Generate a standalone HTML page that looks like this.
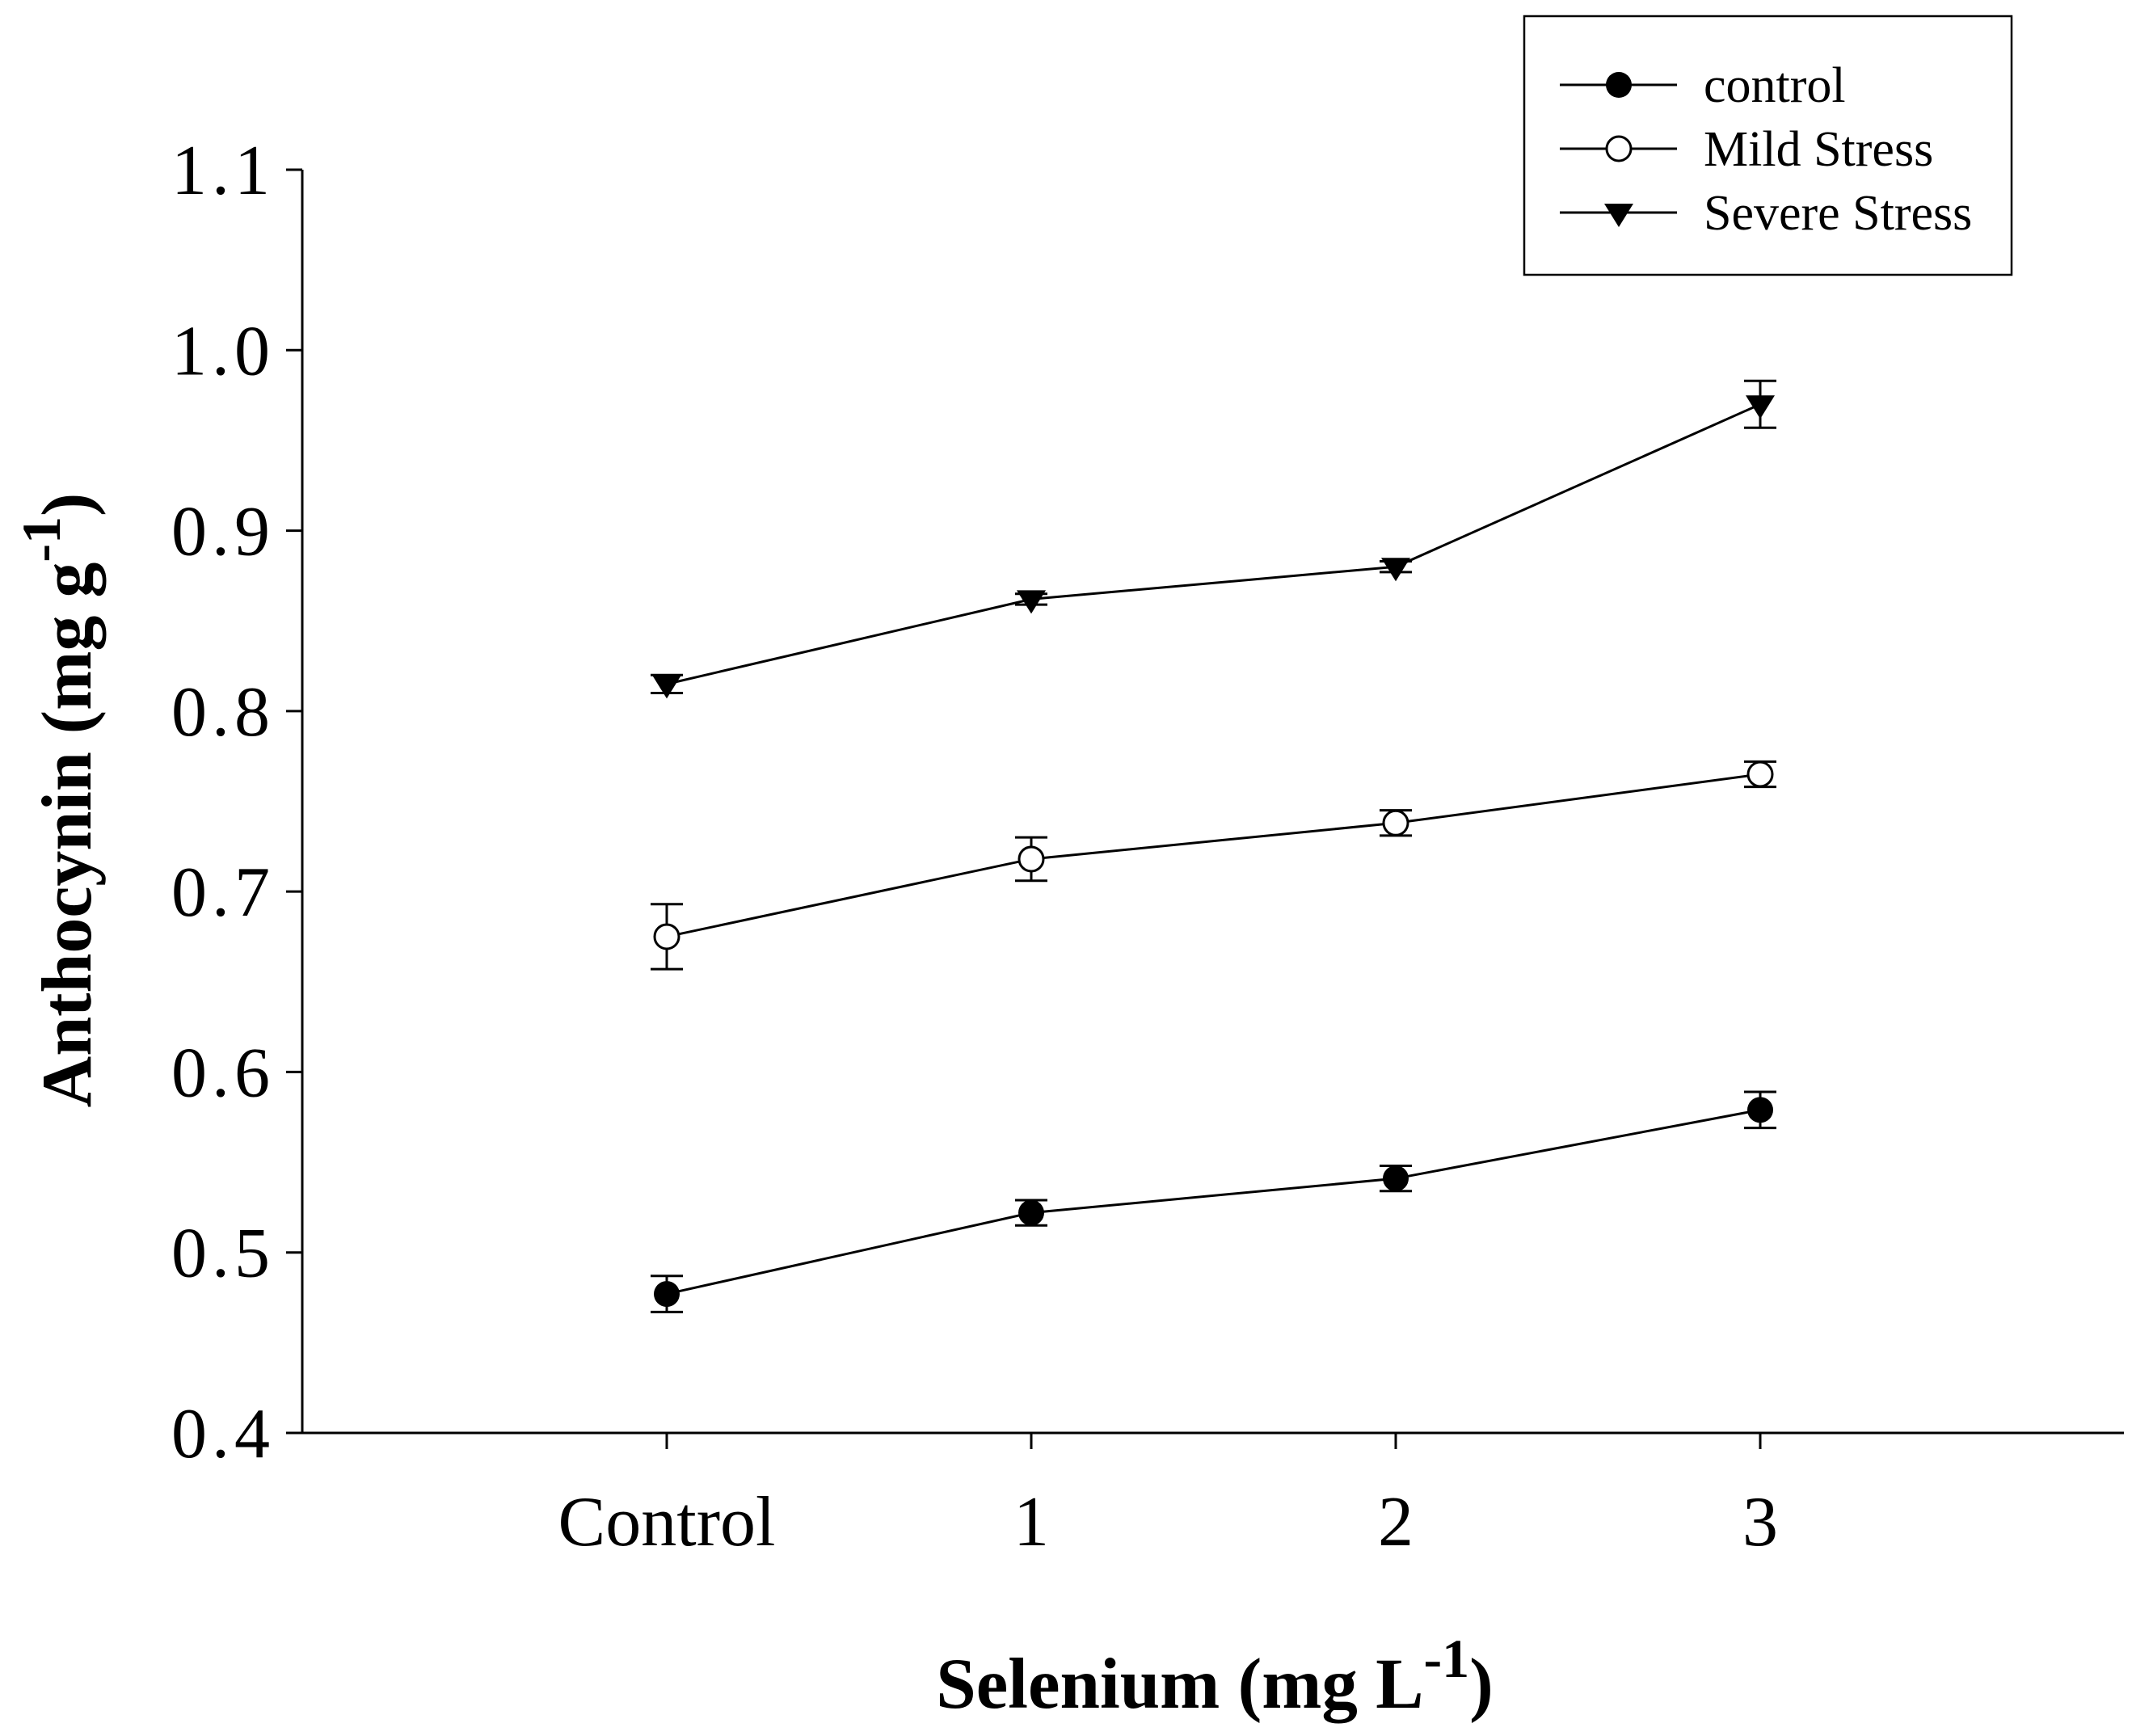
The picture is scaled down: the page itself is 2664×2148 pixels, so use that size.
<!DOCTYPE html>
<html><head><meta charset="utf-8"><style>
body{margin:0;background:#fff}
svg{display:block;font-family:"Liberation Serif",serif}
</style></head><body>
<svg id="chart" width="2664" height="2148" viewBox="0 0 2664 2148" xmlns="http://www.w3.org/2000/svg">
<g id="axes"></g><g id="series"></g>
<text transform="translate(112,990) rotate(-90)" text-anchor="middle" font-size="88" font-weight="bold">Anthocynin (mg g<tspan dy="-38" font-size="68">-1</tspan><tspan dy="38">)</tspan></text>
<text x="1503" y="2113" text-anchor="middle" font-size="89" font-weight="bold">Selenium (mg L<tspan dy="-38" font-size="68">-1</tspan><tspan dy="38">)</tspan></text>
<g>
<rect x="1886" y="20" width="603" height="320" fill="#fff" stroke="#000" stroke-width="2.5"/>
<g><line x1="1930" y1="105" x2="2075" y2="105" stroke="#000" stroke-width="3"/><circle cx="2003" cy="105" r="16" fill="#000"/><text x="2108" y="126" font-size="62">control</text></g>
<g><line x1="1930" y1="184" x2="2075" y2="184" stroke="#000" stroke-width="3"/><circle cx="2003" cy="184" r="15" fill="#fff" stroke="#000" stroke-width="3"/><text x="2108" y="205" font-size="62">Mild Stress</text></g>
<g><line x1="1930" y1="263" x2="2075" y2="263" stroke="#000" stroke-width="3"/><polygon points="1985,252 2021,252 2003,281" fill="#000"/><text x="2108" y="284" font-size="62">Severe Stress</text></g>
</g>
</svg>
<script>
const categories=["Control","1","2","3"];
const yTicks=["0.4","0.5","0.6","0.7","0.8","0.9","1.0","1.1"];
const controlVals=[0.477,0.522,0.541,0.579];
const controlErr=[0.010,0.007,0.007,0.010];
const mildVals=[0.675,0.718,0.738,0.765];
const mildErr=[0.018,0.012,0.007,0.007];
const severeVals=[0.815,0.862,0.880,0.970];
const severeErr=[0.005,0.003,0.003,0.013];
const NS="http://www.w3.org/2000/svg";
const X0=374,X1=2628,YB=1773,YT=210;
function y(v){return YB-(v-0.4)/(0.7)*(YB-YT);}
function x(i){return 825+i*451;}
function mk(t,a,p){const e=document.createElementNS(NS,t);for(const k in a)e.setAttribute(k,a[k]);p.appendChild(e);return e;}
const ax=document.getElementById('axes');
let l=mk('line',{x1:X0,y1:YT,x2:X0,y2:YB,stroke:'#000','stroke-width':3},ax);


l=mk('line',{x1:X0,y1:YB,x2:X1,y2:YB,stroke:'#000','stroke-width':3},ax);


yTicks.forEach(t=>{const yy=y(parseFloat(t));
mk('line',{x1:X0-20,y1:yy,x2:X0,y2:yy,stroke:'#000','stroke-width':3},ax);
const tx=mk('text',{x:340,y:yy+30,'text-anchor':'end','font-size':88,'letter-spacing':6},ax);tx.textContent=t;

});
categories.forEach((c,i)=>{const xx=x(i);
mk('line',{x1:xx,y1:YB,x2:xx,y2:YB+20,stroke:'#000','stroke-width':3},ax);
const tx=mk('text',{x:xx,y:1912,'text-anchor':'middle','font-size':88},ax);tx.textContent=c;

});
const sg=document.getElementById('series');
function series(vals,errs,kind,name){
const g=mk('g',{},sg);


mk('polyline',{points:vals.map((v,i)=>x(i)+','+y(v)).join(' '),fill:'none',stroke:'#000','stroke-width':3},g);
vals.forEach((v,i)=>{const xx=x(i),yy=y(v),t=y(v+errs[i]),b=y(v-errs[i]);
mk('line',{x1:xx,y1:t,x2:xx,y2:b,stroke:'#000','stroke-width':3},g);
mk('line',{x1:xx-20,y1:t,x2:xx+20,y2:t,stroke:'#000','stroke-width':3},g);
mk('line',{x1:xx-20,y1:b,x2:xx+20,y2:b,stroke:'#000','stroke-width':3},g);
let m;
if(kind==='filled')m=mk('circle',{cx:xx,cy:yy,r:16,fill:'#000'},g);
else if(kind==='open')m=mk('circle',{cx:xx,cy:yy,r:15,fill:'#fff',stroke:'#000','stroke-width':3},g);
else m=mk('polygon',{points:`${xx-18},${yy-11} ${xx+18},${yy-11} ${xx},${yy+18}`,fill:'#000'},g);

});}
series(controlVals,controlErr,'filled','control-series');
series(mildVals,mildErr,'open','mild-stress-series');
series(severeVals,severeErr,'tri','severe-stress-series');
</script>
</body></html>
